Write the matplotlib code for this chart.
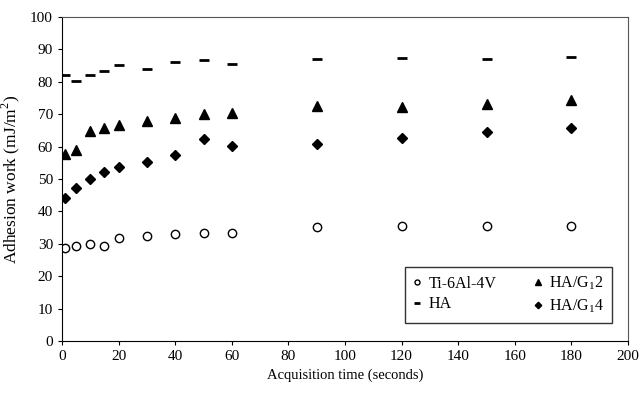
import numpy as np
import matplotlib
matplotlib.use("Agg")
import matplotlib.pyplot as plt

# acquisition times (s)
t = np.array([1, 5, 10, 15, 20, 30, 40, 50, 60, 90, 120, 150, 180])

# adhesion work (mJ/m2)
ti64 = [28.8, 29.2, 30.0, 29.2, 31.7, 32.3, 32.9, 33.2, 33.4, 35.3, 35.6, 35.6, 35.5]
ha = [82.0, 80.1, 82.0, 83.2, 85.2, 84.1, 86.1, 86.6, 85.4, 87.0, 87.5, 87.0, 87.6]
ha_g12 = [57.8, 59.1, 64.9, 65.8, 66.7, 68.0, 68.9, 70.1, 70.4, 72.6, 72.3, 73.2, 74.3]
ha_g14 = [44.2, 47.2, 50.1, 52.3, 53.6, 55.3, 57.3, 62.3, 60.1, 60.7, 62.6, 64.4, 65.7]

plt.rcParams["font.family"] = "Liberation Serif"
plt.rcParams["font.size"] = 10.5
plt.rcParams["mathtext.fontset"] = "custom"
plt.rcParams["mathtext.rm"] = "Liberation Serif"

fig = plt.figure(figsize=(6.4, 3.96), dpi=100)
ax = fig.add_axes([62/640, 1 - 341/396, 566/640, 324/396])

ax.plot(t, ti64, 'o', ms=6, mfc='white', mec='black', mew=1.0, label='Ti-6Al-4V')
ax.plot(t, ha, '_', ms=7, mec='black', mew=2.0, label='HA')
ax.plot(t, ha_g12, '^', ms=7, color='black', label='HA/G$_1$2')
ax.plot(t, ha_g14, 'D', ms=5.5, color='black', label='HA/G$_1$4')

ax.set_xlim(0, 200)
ax.set_ylim(0, 100)
ax.set_xticks(np.arange(0, 201, 20))
ax.set_yticks(np.arange(0, 101, 10))
ax.tick_params(direction='out', length=3, width=0.8, labelsize=11)
ax.spines['top'].set_color('#555555')
ax.spines['right'].set_color('#555555')

ax.set_xlabel('Acquisition time (seconds)', fontsize=10.5)
ax.set_ylabel('Adhesion work (mJ/m$^2$)', fontsize=12.5, labelpad=6)

leg = ax.legend(ncol=2, loc='lower right', bbox_to_anchor=(0.972, 0.056),
                fancybox=False, edgecolor='black', markerscale=0.6,
                handlelength=0.6, handletextpad=0.4, columnspacing=2.3,
                borderpad=0.5, labelspacing=0.3, fontsize=11.5,
                borderaxespad=0)
leg.get_frame().set_linewidth(1.0)

fig.savefig('out.png', dpi=100)
